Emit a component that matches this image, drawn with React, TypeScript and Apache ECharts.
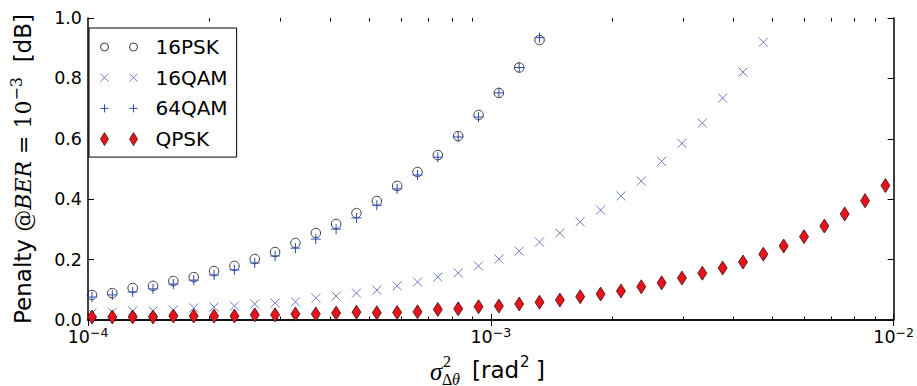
import React, { useEffect, useRef } from "react";
import * as echarts from "echarts";

// x positions (phase noise variance, rad^2)
const xValues = [
  1.023e-4, 1.149e-4, 1.291e-4, 1.45e-4, 1.629e-4, 1.83e-4, 2.056e-4, 2.31e-4,
  2.594e-4, 2.914e-4, 3.273e-4, 3.677e-4, 4.13e-4, 4.639e-4, 5.212e-4, 5.854e-4,
  6.577e-4, 7.387e-4, 8.299e-4, 9.322e-4, 1.047e-3, 1.176e-3, 1.321e-3, 1.484e-3,
  1.667e-3, 1.873e-3, 2.104e-3, 2.363e-3, 2.655e-3, 2.982e-3, 3.35e-3, 3.763e-3,
  4.227e-3, 4.748e-3, 5.333e-3, 5.991e-3, 6.73e-3, 7.56e-3, 8.492e-3, 9.539e-3,
];

const psk16 = [
  0.083, 0.089, 0.106, 0.113, 0.129, 0.142, 0.162, 0.179, 0.202, 0.225, 0.255,
  0.288, 0.318, 0.354, 0.394, 0.444, 0.49, 0.546, 0.609, 0.679, 0.752, 0.836, 0.927,
];
const qam16 = [
  0.023, 0.026, 0.03, 0.03, 0.033, 0.04, 0.043, 0.046, 0.053, 0.056, 0.06, 0.073,
  0.079, 0.089, 0.099, 0.113, 0.126, 0.142, 0.156, 0.179, 0.202, 0.228, 0.258,
  0.288, 0.325, 0.364, 0.411, 0.46, 0.525, 0.585, 0.652, 0.735, 0.821, 0.92,
];
const qam64 = [
  0.076, 0.083, 0.093, 0.103, 0.119, 0.132, 0.149, 0.166, 0.189, 0.212, 0.238,
  0.268, 0.301, 0.338, 0.38, 0.434, 0.48, 0.539, 0.606, 0.672, 0.752, 0.836, 0.935,
];
const qpsk = [
  0.01, 0.01, 0.01, 0.01, 0.013, 0.013, 0.013, 0.013, 0.017, 0.017, 0.02, 0.02,
  0.023, 0.026, 0.024, 0.025, 0.027, 0.035, 0.037, 0.044, 0.046, 0.053, 0.059,
  0.066, 0.077, 0.086, 0.096, 0.11, 0.123, 0.139, 0.155, 0.172, 0.192, 0.218,
  0.245, 0.276, 0.311, 0.351, 0.395, 0.445,
];

const seriesNames = ["16PSK", "16QAM", "64QAM", "QPSK"];
const majorTicksX = [1e-4, 1e-3, 1e-2];
const minorTicksX = [
  2e-4, 3e-4, 4e-4, 5e-4, 6e-4, 7e-4, 8e-4, 9e-4,
  2e-3, 3e-3, 4e-3, 5e-3, 6e-3, 7e-3, 8e-3, 9e-3,
];

const SANS = "DejaVu Sans";
const SERIF = "Liberation Serif";
const MATH = "DejaVu Serif";

const pair = (ys: number[]) => ys.map((y, i) => [xValues[i], y]);

const ICON_CIRCLES =
  "path://M0,4a4,4 0 1,0 8,0a4,4 0 1,0 -8,0M29,4a4,4 0 1,0 8,0a4,4 0 1,0 -8,0";
const ICON_X = "path://M0,0L8,8M8,0L0,8M29,0L37,8M37,0L29,8";
const ICON_PLUS = "path://M4,0L4,8M0,4L8,4M33,0L33,8M29,4L37,4";
const ICON_DIAMOND =
  "path://M4,0L8,6.5L4,13L0,6.5ZM33,0L37,6.5L33,13L29,6.5Z";

const COL_CIRCLE = "#3a3a3a";
const COL_X = "#6c7bcb";
const COL_PLUS = "#2b47b3";
const COL_RED = "#e8121b";
const COL_RED_EDGE = "#3a1414";

export default function App() {
  const ref = useRef<HTMLDivElement>(null);
  useEffect(() => {
    if (!ref.current) return;
    const chart = echarts.init(ref.current, null, { renderer: "svg" });
    const expLabel = (v: number) => {
      const e = Math.round(Math.log10(v));
      return "{b|10}{s|" + (e < 0 ? "\u2212" + -e : String(e)) + "}";
    };
    const frameLine = { show: true, lineStyle: { color: "#000", width: 1.5 } };
    const txt = (x: number, y: number, text: string, fontFamily: string, fontSize: number, italic = false) => ({
      type: "text",
      x,
      y,
      style: {
        text,
        fontFamily,
        fontSize,
        fontStyle: italic ? "italic" : "normal",
        fill: "#000",
        verticalAlign: "middle",
        align: "left",
      },
    });
    const option: any = {
      animation: false,
      backgroundColor: "#fff",
      grid: { left: 79, top: 18, right: 19, bottom: 66, containLabel: false },
      legend: {
        orient: "vertical",
        left: 89,
        top: 28,
        padding: [9, 9, 8, 11],
        itemGap: 10.7,
        itemWidth: 37,
        itemHeight: 13,
        borderColor: "#000",
        borderWidth: 1,
        backgroundColor: "#fff",
        borderRadius: 0,
        symbolKeepAspect: true,
        textStyle: {
          fontFamily: SANS,
          fontSize: 20,
          color: "#000",
          lineHeight: 20,
          padding: [0, 0, 0, 13],
        },
        data: [
          {
            name: seriesNames[0],
            icon: ICON_CIRCLES,
            itemStyle: { color: "rgba(0,0,0,0)", borderColor: COL_CIRCLE, borderWidth: 1, opacity: 1 },
          },
          {
            name: seriesNames[1],
            icon: ICON_X,
            itemStyle: { color: "rgba(0,0,0,0)", borderColor: COL_X, borderWidth: 1, opacity: 1 },
          },
          {
            name: seriesNames[2],
            icon: ICON_PLUS,
            itemStyle: { color: "rgba(0,0,0,0)", borderColor: COL_PLUS, borderWidth: 1, opacity: 1 },
          },
          {
            name: seriesNames[3],
            icon: ICON_DIAMOND,
            itemStyle: { color: COL_RED, borderColor: COL_RED_EDGE, borderWidth: 0.8, opacity: 1 },
          },
        ],
      },
      xAxis: [
        {
          type: "log",
          logBase: 10,
          min: 1e-4,
          max: 1e-2,
          position: "bottom",
          axisLine: frameLine,
          splitLine: { show: false },
          axisTick: {
            show: true,
            inside: true,
            length: 6,
            lineStyle: { color: "#000", width: 1 },
            customValues: majorTicksX,
          },
          axisLabel: {
            show: true,
            margin: 6,
            customValues: majorTicksX,
            formatter: expLabel,
            rich: {
              b: { fontFamily: SANS, fontSize: 17.5, color: "#000", lineHeight: 22 },
              s: {
                fontFamily: SANS,
                fontSize: 12.5,
                color: "#000",
                lineHeight: 12,
                verticalAlign: "top",
              },
            },
          },
        },
        {
          type: "log",
          logBase: 10,
          min: 1e-4,
          max: 1e-2,
          position: "top",
          axisLine: frameLine,
          splitLine: { show: false },
          axisTick: {
            show: true,
            inside: true,
            length: 6,
            lineStyle: { color: "#000", width: 1 },
            customValues: majorTicksX,
          },
          axisLabel: { show: false },
        },
        {
          type: "log",
          logBase: 10,
          min: 1e-4,
          max: 1e-2,
          position: "bottom",
          axisLine: { show: false },
          splitLine: { show: false },
          axisTick: {
            show: true,
            inside: true,
            length: 3.5,
            lineStyle: { color: "#000", width: 1 },
            customValues: minorTicksX,
          },
          axisLabel: { show: false },
        },
        {
          type: "log",
          logBase: 10,
          min: 1e-4,
          max: 1e-2,
          position: "top",
          axisLine: { show: false },
          splitLine: { show: false },
          axisTick: {
            show: true,
            inside: true,
            length: 3.5,
            lineStyle: { color: "#000", width: 1 },
            customValues: minorTicksX,
          },
          axisLabel: { show: false },
        },
      ],
      yAxis: [
        {
          type: "value",
          min: 0,
          max: 1,
          interval: 0.2,
          position: "left",
          axisLine: frameLine,
          splitLine: { show: false },
          axisTick: { show: true, inside: true, length: 6, lineStyle: { color: "#000", width: 1 } },
          axisLabel: {
            margin: 6,
            fontFamily: SANS,
            fontSize: 17.5,
            color: "#000",
            formatter: (v: number) => v.toFixed(1),
          },
          name: "{t|Penalty }{m|@}{i|BER}{m| = 10}{sup|\u22123}{t|  [dB]}",
          nameLocation: "middle",
          nameRotate: 90,
          nameGap: 50,
          nameTextStyle: {
            rich: {
              t: { fontFamily: SANS, fontSize: 23, color: "#000", lineHeight: 30 },
              m: { fontFamily: MATH, fontSize: 22, color: "#000", lineHeight: 30 },
              i: {
                fontFamily: MATH,
                fontSize: 22,
                fontStyle: "italic",
                color: "#000",
                lineHeight: 30,
              },
              sup: {
                fontFamily: MATH,
                fontSize: 16,
                color: "#000",
                lineHeight: 18,
                verticalAlign: "top",
              },
            },
          },
        },
        {
          type: "value",
          min: 0,
          max: 1,
          interval: 0.2,
          position: "right",
          axisLine: frameLine,
          splitLine: { show: false },
          axisTick: { show: true, inside: true, length: 6, lineStyle: { color: "#000", width: 1 } },
          axisLabel: { show: false },
        },
      ],
      graphic: [
        {
          type: "group",
          silent: true,
          children: [
            txt(430, 371, "\u03c3", SERIF, 25, true),
            txt(443, 361, "2", SERIF, 16),
            txt(442, 379, "\u0394", SERIF, 16),
            txt(452, 379, "\u03b8", SERIF, 16, true),
            txt(472, 370, "[rad", SANS, 23),
            txt(520, 362, "2", SANS, 15),
            txt(536, 370, "]", SANS, 23),
          ],
        },
      ],
      series: [
        {
          name: seriesNames[0],
          type: "scatter",
          symbol: "circle",
          symbolSize: 9.5,
          itemStyle: { color: "rgba(0,0,0,0)", borderColor: COL_CIRCLE, borderWidth: 1, opacity: 1 },
          data: pair(psk16),
          z: 2,
        },
        {
          name: seriesNames[1],
          type: "scatter",
          symbol: "path://M0,0L10,10M10,0L0,10",
          symbolSize: 9,
          itemStyle: { color: "rgba(0,0,0,0)", borderColor: COL_X, borderWidth: 1, opacity: 1 },
          data: pair(qam16),
          z: 3,
        },
        {
          name: seriesNames[2],
          type: "scatter",
          symbol: "path://M5,0L5,10M0,5L10,5",
          symbolSize: 10,
          itemStyle: { color: "rgba(0,0,0,0)", borderColor: COL_PLUS, borderWidth: 1, opacity: 1 },
          data: pair(qam64),
          z: 4,
        },
        {
          name: seriesNames[3],
          type: "scatter",
          symbol: "diamond",
          symbolSize: [9, 14],
          itemStyle: { color: COL_RED, borderColor: COL_RED_EDGE, borderWidth: 0.8, opacity: 1 },
          data: pair(qpsk),
          z: 5,
        },
      ],
    };
    chart.setOption(option);
    return () => chart.dispose();
  }, []);
  return (
    <div
      ref={ref}
      style={{ position: "fixed", left: 0, top: 0, width: 917, height: 386, background: "#fff" }}
    />
  );
}
